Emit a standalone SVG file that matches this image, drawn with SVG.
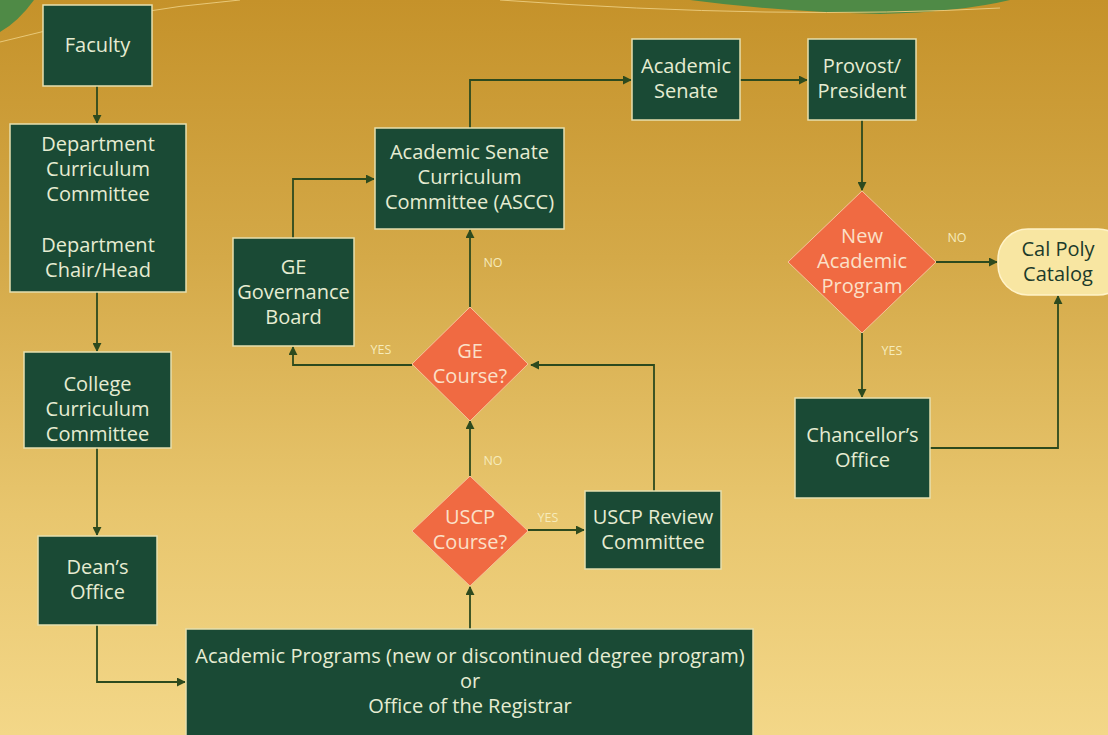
<svg xmlns="http://www.w3.org/2000/svg" width="1108" height="735" viewBox="0 0 1108 735">
<defs>
<linearGradient id="bg" x1="0" y1="0" x2="0" y2="1">
<stop offset="0" stop-color="#c5922a"/>
<stop offset="0.35" stop-color="#d4a948"/>
<stop offset="0.7" stop-color="#e8c66e"/>
<stop offset="1" stop-color="#f3d788"/>
</linearGradient>
<marker id="ah" viewBox="0 0 10 10" refX="9" refY="5" markerWidth="9" markerHeight="9" markerUnits="userSpaceOnUse" orient="auto">
<path d="M0,0 L10,5 L0,10 Z" fill="#2d4a1e"/>
</marker>
<style>
.box{fill:#1a4a35;stroke:#e6dfae;stroke-width:1.5}
.dia{fill:#f06a42;stroke:#f5c49a;stroke-width:1}
.t{font-family:"Open Sans","Liberation Sans",sans-serif;font-size:20px;fill:#e6ecd2;text-anchor:middle}
.td{font-family:"Open Sans","Liberation Sans",sans-serif;font-size:20px;fill:#fbe0c8;text-anchor:middle}
.lb{font-family:"Open Sans","Liberation Sans",sans-serif;font-size:12.5px;fill:#f6ebbb;text-anchor:middle}
.c{fill:none;stroke:#2d4a1e;stroke-width:1.8;marker-end:url(#ah)}
</style>
</defs>
<rect width="1108" height="735" fill="url(#bg)"/>
<path d="M0,0 L34,0 Q18,22 0,32 Z" fill="#4f8a46"/>
<path d="M690,0 L1010,0 Q960,12 880,14 Q780,12 690,0 Z" fill="#4f8a46"/>
<path d="M0,42 Q120,10 240,0" fill="none" stroke="#e8c878" stroke-width="1"/>
<path d="M500,0 Q780,20 1000,8" fill="none" stroke="#e8c878" stroke-width="1"/>

<g id="connectors">
<path class="c" d="M97,86 V123"/>
<path class="c" d="M97,292 V351"/>
<path class="c" d="M97,448 V535"/>
<path class="c" d="M97,625 V682 H185"/>
<path class="c" d="M470,629 V587"/>
<path class="c" d="M528,530 H584"/>
<path class="c" d="M470,476 V421"/>
<path class="c" d="M654,491 V365 H531"/>
<path class="c" d="M412,365 H293 V347"/>
<path class="c" d="M470,307 V230"/>
<path class="c" d="M293,238 V179 H374"/>
<path class="c" d="M470,128 V80 H631"/>
<path class="c" d="M740,80 H807"/>
<path class="c" d="M862,120 V190"/>
<path class="c" d="M936,262 H997"/>
<path class="c" d="M862,333 V397"/>
<path class="c" d="M930,448 H1058 V296"/>
</g>

<g id="labels">
<text class="lb" x="548" y="522">YES</text>
<text class="lb" x="493" y="465">NO</text>
<text class="lb" x="381" y="354">YES</text>
<text class="lb" x="493" y="267">NO</text>
<text class="lb" x="957" y="242">NO</text>
<text class="lb" x="892" y="355">YES</text>
</g>

<g id="faculty"><rect class="box" x="43" y="5" width="109" height="81"/>
<text class="t" x="97.5" y="52">Faculty</text></g>

<g id="dept"><rect class="box" x="10" y="124" width="176" height="168"/>
<text class="t" x="98" y="151">Department</text>
<text class="t" x="98" y="176">Curriculum</text>
<text class="t" x="98" y="201">Committee</text>
<text class="t" x="98" y="252">Department</text>
<text class="t" x="98" y="277">Chair/Head</text></g>

<g id="college"><rect class="box" x="24" y="352" width="147" height="96"/>
<text class="t" x="97.5" y="391">College</text>
<text class="t" x="97.5" y="416">Curriculum</text>
<text class="t" x="97.5" y="441">Committee</text></g>

<g id="dean"><rect class="box" x="38" y="536" width="119" height="89"/>
<text class="t" x="97.5" y="574">Dean’s</text>
<text class="t" x="97.5" y="599">Office</text></g>

<g id="acadprog"><rect class="box" x="186" y="629" width="567" height="110"/>
<text class="t" x="470" y="663">Academic Programs (new or discontinued degree program)</text>
<text class="t" x="470" y="688">or</text>
<text class="t" x="470" y="713">Office of the Registrar</text></g>

<g id="uscp"><polygon class="dia" points="470,476 528,531 470,586 412,531"/>
<text class="td" x="470" y="524">USCP</text>
<text class="td" x="470" y="549">Course?</text></g>

<g id="uscpreview"><rect class="box" x="585" y="491" width="136" height="78"/>
<text class="t" x="653" y="524">USCP Review</text>
<text class="t" x="653" y="549">Committee</text></g>

<g id="ge"><polygon class="dia" points="470,307 528,364 470,421 412,364"/>
<text class="td" x="470" y="358">GE</text>
<text class="td" x="470" y="383">Course?</text></g>

<g id="gegov"><rect class="box" x="233" y="238" width="121" height="108"/>
<text class="t" x="293.5" y="274">GE</text>
<text class="t" x="293.5" y="299">Governance</text>
<text class="t" x="293.5" y="324">Board</text></g>

<g id="ascc"><rect class="box" x="375" y="128" width="189" height="101"/>
<text class="t" x="469.5" y="159">Academic Senate</text>
<text class="t" x="469.5" y="184">Curriculum</text>
<text class="t" x="469.5" y="209">Committee (ASCC)</text></g>

<g id="senate"><rect class="box" x="632" y="39" width="108" height="81"/>
<text class="t" x="686" y="73">Academic</text>
<text class="t" x="686" y="98">Senate</text></g>

<g id="provost"><rect class="box" x="808" y="39" width="108" height="81"/>
<text class="t" x="862" y="73">Provost/</text>
<text class="t" x="862" y="98">President</text></g>

<g id="newprog"><polygon class="dia" points="862,191 936,262 862,333 788,262"/>
<text class="td" x="862" y="243">New</text>
<text class="td" x="862" y="268">Academic</text>
<text class="td" x="862" y="293">Program</text></g>

<g id="catalog"><rect x="998" y="229" width="130" height="66" rx="30" fill="#f8e6a2" stroke="#fff3c8" stroke-width="1.5"/>
<text class="t" x="1058" y="256" style="fill:#1c3a2a">Cal Poly</text>
<text class="t" x="1058" y="281" style="fill:#1c3a2a">Catalog</text></g>

<g id="chancellor"><rect class="box" x="795" y="398" width="135" height="100"/>
<text class="t" x="862.5" y="442">Chancellor’s</text>
<text class="t" x="862.5" y="467">Office</text></g>
</svg>
